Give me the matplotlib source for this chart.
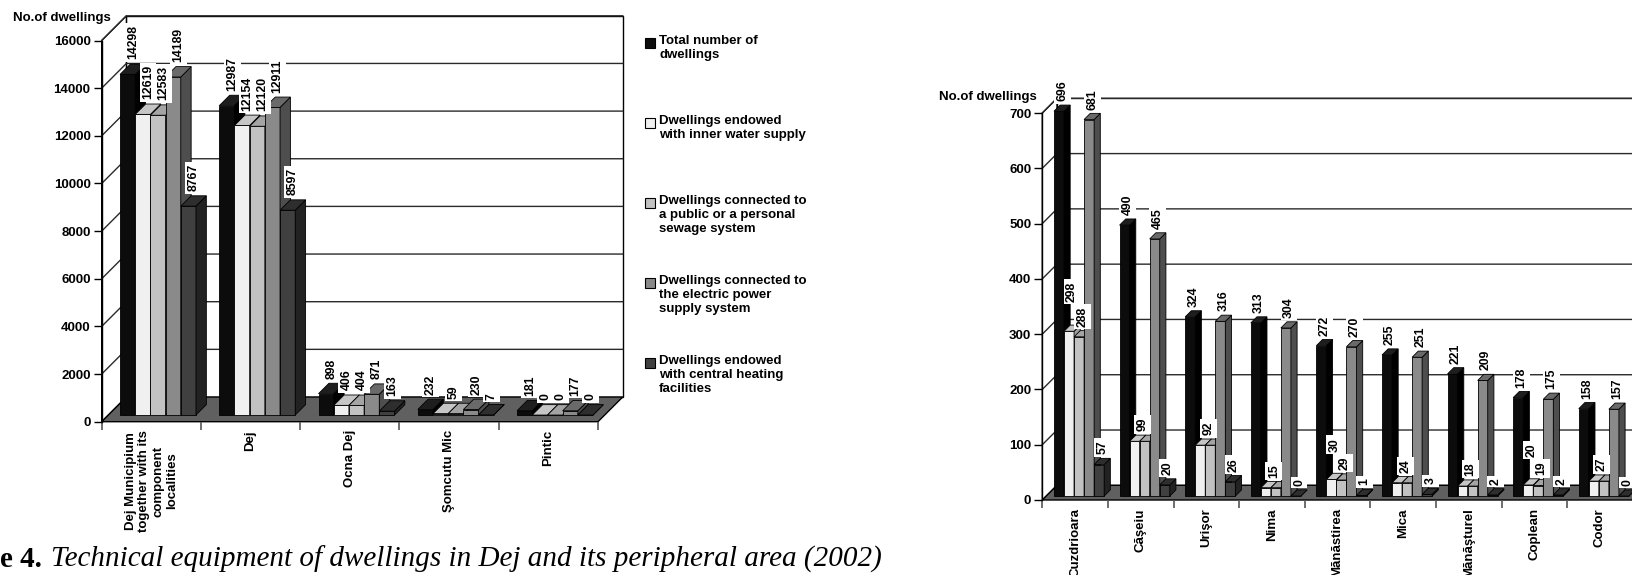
import matplotlib
matplotlib.use("Agg")
import matplotlib.pyplot as plt
from matplotlib.patches import Polygon, Rectangle

# ---------------- data ----------------
series_names = [
    "Total number of\ndwellings",
    "Dwellings endowed\nwith inner water supply",
    "Dwellings connected to\na public or a personal\nsewage system",
    "Dwellings connected to\nthe electric power\nsupply system",
    "Dwellings endowed\nwith central heating\nfacilities",
]

left_categories = ["Dej Municipium\ntogether with its\ncomponent\nlocalities",
                   "Dej", "Ocna Dej", "Şomcutu Mic", "Pintic"]
left_total = [14298, 12987, 898, 232, 181]
left_water = [12619, 12154, 406, 59, 0]
left_sewage = [12583, 12120, 404, 59, 0]
left_electric = [14189, 12911, 871, 230, 177]
left_heating = [8767, 8597, 163, 7, 0]
left_yticks = [0, 2000, 4000, 6000, 8000, 10000, 12000, 14000, 16000]

right_categories = ["Cuzdrioara", "Căşeiu", "Urişor", "Nima", "Mănăstirea",
                    "Mica", "Mănăşturel", "Coplean", "Codor"]
right_total = [696, 490, 324, 313, 272, 255, 221, 178, 158]
right_water = [298, 99, 92, 15, 30, 24, 18, 20, 27]
right_sewage = [288, 99, 92, 15, 29, 24, 18, 19, 27]
right_electric = [681, 465, 316, 304, 270, 251, 209, 175, 157]
right_heating = [57, 20, 26, 0, 1, 3, 2, 2, 0]
right_yticks = [0, 100, 200, 300, 400, 500, 600, 700]

y_title = "No.of dwellings"
caption_num = "e 4."
caption_text = "Technical equipment of dwellings in Dej and its peripheral area (2002)"

# ---------------- style ----------------
FRONT = ['#0c0c0c', '#f0f0f0', '#c2c2c2', '#8a8a8a', '#404040']
TOP = ['#1e1e1e', '#c6c6c6', '#a4a4a4', '#6a6a6a', '#2e2e2e']
SIDE = ['#000000', '#9e9e9e', '#8a8a8a', '#4e4e4e', '#222222']
FLOOR = '#606060'
SANS = ['Liberation Sans', 'DejaVu Sans']
SERIF = ['Liberation Serif', 'DejaVu Serif']
BAR_W = 0.153
BAR_FRONT = 0.27
BAR_DEPTH = 0.42
VAL_SIZE = 8.8

W, H = 1632, 575
fig = plt.figure(figsize=(W / 100, H / 100), dpi=100)
plt.rcParams['font.family'] = SANS


def px_axes(x0, x1, y_bottom, y_top):
    return fig.add_axes([x0 / W, 1 - y_bottom / H, (x1 - x0) / W, (y_bottom - y_top) / H])


def draw_panel(ax, cats, data, ymax, yticks, depth_px, label_gap):
    n = len(cats)
    ax.set_xlim(0, n)
    ax.set_ylim(0, ymax)
    ax.patch.set_visible(False)
    bb = ax.get_window_extent()
    DX = depth_px / bb.width * n
    DY = depth_px / bb.height * ymax
    lk = dict(clip_on=False)

    # walls
    ax.add_patch(Polygon([(DX, DY), (n + DX, DY), (n + DX, ymax + DY), (DX, ymax + DY)],
                         closed=True, fc='white', ec='black', lw=1.0, zorder=0.5, **lk))
    ax.add_patch(Polygon([(0, 0), (DX, DY), (DX, ymax + DY), (0, ymax)],
                         closed=True, fc='white', ec='black', lw=1.0, zorder=0.5, **lk))
    for v in yticks[1:]:
        ax.plot([0, DX, n + DX], [v, v + DY, v + DY], color='#2a2a2a', lw=1.0,
                zorder=0.6, **lk)
    # floor
    ax.add_patch(Polygon([(0, 0), (n, 0), (n + DX, DY), (DX, DY)], closed=True,
                         fc=FLOOR, ec='black', lw=1.0, zorder=0.7, **lk))

    m = (1 - 5 * BAR_W) / 2
    f0, db = BAR_FRONT, BAR_DEPTH
    for c in range(n):
        for s in range(5):
            v = data[s][c]
            xl = c + m + s * BAR_W + f0 * DX
            yb = f0 * DY
            xr = xl + BAR_W
            yt = yb + v
            ax.bar(xl, v, width=BAR_W, bottom=yb, align='edge', color=FRONT[s],
                   edgecolor='black', linewidth=0.6, zorder=2, **lk)
            ax.add_patch(Polygon([(xr, yb), (xr + db * DX, yb + db * DY),
                                  (xr + db * DX, yt + db * DY), (xr, yt)], closed=True,
                                 fc=SIDE[s], ec='black', lw=0.6, zorder=2, **lk))
            ax.add_patch(Polygon([(xl, yt), (xr, yt), (xr + db * DX, yt + db * DY),
                                  (xl + db * DX, yt + db * DY)], closed=True,
                                 fc=TOP[s], ec='black', lw=0.6, zorder=2, **lk))

    # value labels
    groups = []
    for c in range(n):
        g = []
        for s in range(5):
            v = data[s][c]
            xc = c + m + (s + 0.5) * BAR_W + (f0 + db / 2) * DX
            if s == 2 and data[1][c] == v and v != 0:
                continue
            if s == 1 and data[2][c] == v and v != 0:
                xc += BAR_W / 2
            a = ax.annotate(str(v), (xc, v + (f0 + db / 2) * DY), xytext=(0, label_gap),
                            textcoords='offset points', rotation=90, ha='center',
                            va='bottom', fontsize=VAL_SIZE, fontweight='bold', zorder=6,
                            annotation_clip=False,
                            bbox=dict(boxstyle='square,pad=0.2', fc='white', ec='none'))
            g.append((v, a))
        groups.append(g)

    # axes decoration
    for sp in ['top', 'right', 'bottom']:
        ax.spines[sp].set_visible(False)
    ax.spines['left'].set_linewidth(1.0)
    ax.spines['left'].set_zorder(3)
    ax.set_yticks(yticks)
    ax.set_yticklabels([str(t) for t in yticks], fontsize=9.5, fontweight='bold')
    ax.tick_params(axis='y', length=6, width=1.0, pad=2, direction='out')
    ax.set_xticks([c + 0.5 for c in range(n)])
    ax.set_xticklabels(cats, rotation=90, fontsize=9.5, fontweight='bold',
                       multialignment='center', va='top', ha='center')
    ax.set_xticks(list(range(n + 1)), minor=True)
    ax.tick_params(axis='x', which='major', length=0, pad=6)
    ax.tick_params(axis='x', which='minor', length=6, width=1.2, color='#555555')
    return groups


left_data = [left_total, left_water, left_sewage, left_electric, left_heating]
right_data = [right_total, right_water, right_sewage, right_electric, right_heating]

axL = px_axes(101.7, 598.0, 421.7, 40.5)
gL = draw_panel(axL, left_categories, left_data, 16000, left_yticks, 24.7, 7)
axR = px_axes(1042.3, 1042.3 + 9 * 65.6, 500.0, 113.0)
gR = draw_panel(axR, right_categories, right_data, 700, right_yticks, 14.7, 5)

# axis titles
fig.text(111 / W, 1 - 18 / H, y_title, ha='right', va='center', fontsize=9.5,
         fontweight='bold')
fig.text(1037 / W, 1 - 97 / H, y_title, ha='right', va='center', fontsize=9.5,
         fontweight='bold')

# legend
leg_y = [43, 123, 203, 283, 363]
for s, name in enumerate(series_names):
    yc = leg_y[s]
    fig.add_artist(Rectangle((645 / W, 1 - (yc + 5) / H), 10 / W, 10 / H,
                             transform=fig.transFigure, fc=FRONT[s], ec='black', lw=0.8))
    fig.text(659 / W, 1 - (yc - 8) / H, name, ha='left', va='top', fontsize=9.5,
             fontweight='bold', linespacing=1.2)

# caption
fig.canvas.draw()
r = fig.canvas.get_renderer()
t1 = fig.text(0, 1 - 567 / H, caption_num, family=SERIF, fontweight='bold',
              fontsize=21, va='baseline', ha='left')
w1 = t1.get_window_extent(r).width
fig.text((w1 + 9) / W, 1 - 567 / H, caption_text, family=SERIF, style='italic',
         fontsize=21, va='baseline', ha='left')

# resolve overlapping labels: push the higher one up
fig.canvas.draw()
r = fig.canvas.get_renderer()
for groups in (gL, gR):
    for g in groups:
        for i in range(len(g)):
            for j in range(i + 1, len(g)):
                vi, ai = g[i]
                vj, aj = g[j]
                bi = ai.get_bbox_patch().get_window_extent(r)
                bj = aj.get_bbox_patch().get_window_extent(r)
                ox = min(bi.x1, bj.x1) - max(bi.x0, bj.x0)
                oy = min(bi.y1, bj.y1) - max(bi.y0, bj.y0)
                if ox > 5 and oy > 0:
                    hi, lo, bhi, blo = (ai, aj, bi, bj) if vi >= vj else (aj, ai, bj, bi)
                    shift = (blo.y1 - bhi.y0) * 72 / fig.dpi
                    x0, y0 = hi.xyann
                    hi.xyann = (x0, y0 + shift)

fig.savefig("out.png", dpi=100)
